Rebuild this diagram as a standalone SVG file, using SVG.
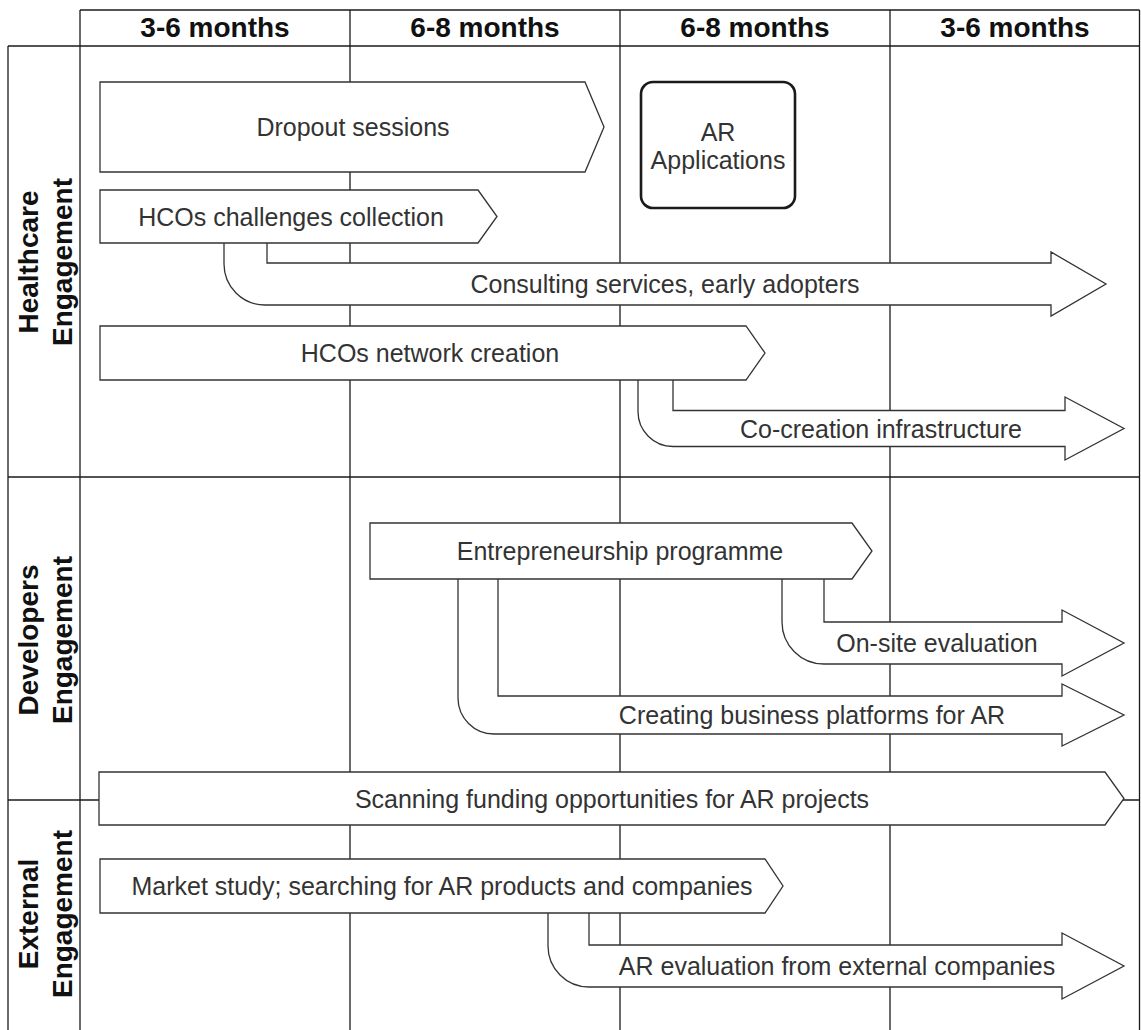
<svg xmlns="http://www.w3.org/2000/svg" width="1141" height="1030" viewBox="0 0 1141 1030">
  <style>
    .grid { stroke: #1a1a1a; stroke-width: 1.3; fill: none; }
    .shape { fill: #ffffff; stroke: #333333; stroke-width: 1.3; stroke-linejoin: miter; }
    .box { fill: #ffffff; stroke: #1a1a1a; stroke-width: 2.6; }
    .lbl { font-family: "Liberation Sans", Arial, Helvetica, sans-serif; font-size: 25px; fill: #333333; text-anchor: middle; }
    .hdr { font-family: "Liberation Sans", Arial, Helvetica, sans-serif; font-size: 28px; font-weight: bold; fill: #111111; text-anchor: middle; }
  </style>
  <rect x="0" y="0" width="1141" height="1030" fill="#ffffff"/>

  <!-- timeline grid: header, swimlane column, period columns -->
  <g id="grid" class="grid">
    <line x1="80" y1="10" x2="1139.5" y2="10"/>
    <line x1="8" y1="46" x2="1139.5" y2="46"/>
    <line x1="8" y1="477" x2="1139.5" y2="477"/>
    <line x1="8" y1="800" x2="1139.5" y2="800"/>
    <line x1="8" y1="46" x2="8" y2="1030"/>
    <line x1="80" y1="10" x2="80" y2="1030"/>
    <line x1="350" y1="10" x2="350" y2="1030"/>
    <line x1="620" y1="10" x2="620" y2="1030"/>
    <line x1="890" y1="10" x2="890" y2="1030"/>
    <line x1="1139.5" y1="10" x2="1139.5" y2="1030"/>
  </g>

  <g id="headers">
    <text class="hdr" x="215" y="37">3-6 months</text>
    <text class="hdr" x="485" y="37">6-8 months</text>
    <text class="hdr" x="755" y="37">6-8 months</text>
    <text class="hdr" x="1015" y="37">3-6 months</text>
  </g>

  <g id="lane-healthcare">
    <text class="hdr" transform="translate(38,262) rotate(-90)">Healthcare</text>
    <text class="hdr" transform="translate(72,262) rotate(-90)">Engagement</text>
  </g>
  <g id="lane-developers">
    <text class="hdr" transform="translate(38,640) rotate(-90)">Developers</text>
    <text class="hdr" transform="translate(72,640) rotate(-90)">Engagement</text>
  </g>
  <g id="lane-external">
    <text class="hdr" transform="translate(38,914) rotate(-90)">External</text>
    <text class="hdr" transform="translate(72,914) rotate(-90)">Engagement</text>
  </g>

  <!-- bent follow-up arrows branching from activities -->
  <g id="flow-arrows">
    <g id="consulting-services">
      <path class="shape" d="M 267 236 V 263 H 1051 V 252 L 1106 284 L 1051 316 V 305 H 265 A 41 41 0 0 1 224 264 V 236 Z"/>
      <text class="lbl" x="665" y="293">Consulting services, early adopters</text>
    </g>
    <g id="co-creation">
      <path class="shape" d="M 673 372 V 410.5 H 1065 V 397 L 1124 428.5 L 1065 460 V 446.5 H 673 A 35 35 0 0 1 638 411.5 V 372 Z"/>
      <text class="lbl" x="881" y="437.5">Co-creation infrastructure</text>
    </g>
    <g id="on-site-evaluation">
      <path class="shape" d="M 824 570 V 622 H 1062 V 610 L 1124 643 L 1062 676 V 664 H 824 A 42 42 0 0 1 782 622 V 570 Z"/>
      <text class="lbl" x="937" y="652">On-site evaluation</text>
    </g>
    <g id="business-platforms">
      <path class="shape" d="M 498 570 V 696 H 1062 V 684 L 1124 715 L 1062 746 V 734 H 494 A 36 36 0 0 1 458 698 V 570 Z"/>
      <text class="lbl" x="812" y="724">Creating business platforms for AR</text>
    </g>
    <g id="ar-evaluation">
      <path class="shape" d="M 589 905 V 945 H 1062 V 933 L 1124 966 L 1062 999 V 987 H 589 A 41 41 0 0 1 548 946 V 905 Z"/>
      <text class="lbl" x="837" y="975">AR evaluation from external companies</text>
    </g>
  </g>

  <!-- activity steps -->
  <g id="dropout-sessions">
    <path class="shape" d="M 100 82 H 585 L 604 127 L 585 172 H 100 Z"/>
    <text class="lbl" x="353" y="136">Dropout sessions</text>
  </g>
  <g id="ar-applications">
    <rect class="box" x="641" y="82" width="154" height="126" rx="12" ry="12"/>
    <text class="lbl" x="718" y="141">AR</text>
    <text class="lbl" x="718" y="169">Applications</text>
  </g>
  <g id="hcos-challenges">
    <path class="shape" d="M 100 190 H 478 L 497 216.5 L 478 243 H 100 Z"/>
    <text class="lbl" x="291" y="225.5">HCOs challenges collection</text>
  </g>
  <g id="hcos-network">
    <path class="shape" d="M 100 326 H 746 L 765 353 L 746 380 H 100 Z"/>
    <text class="lbl" x="430" y="362">HCOs network creation</text>
  </g>
  <g id="entrepreneurship">
    <path class="shape" d="M 370 523 H 852 L 872 551 L 852 579 H 370 Z"/>
    <text class="lbl" x="620" y="560">Entrepreneurship programme</text>
  </g>
  <g id="funding-scan">
    <path class="shape" d="M 99 772 H 1105 L 1124 798.5 L 1105 825 H 99 Z"/>
    <text class="lbl" x="612" y="807.5">Scanning funding opportunities for AR projects</text>
  </g>
  <g id="market-study">
    <path class="shape" d="M 100 859 H 765 L 783 886 L 765 913 H 100 Z"/>
    <text class="lbl" x="442" y="895">Market study; searching for AR products and companies</text>
  </g>
</svg>
